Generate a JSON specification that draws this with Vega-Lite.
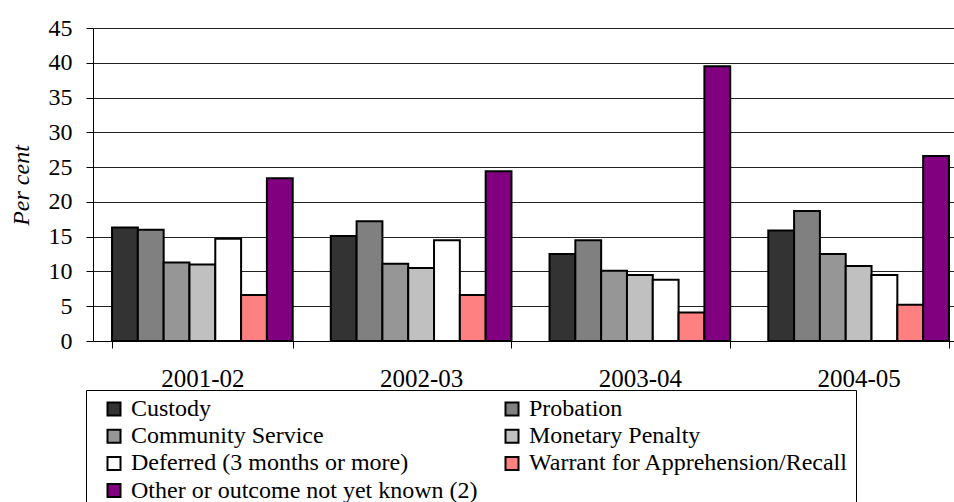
{
  "$schema": "https://vega.github.io/schema/vega-lite/v6.json",
  "width": 861,
  "height": 313,
  "autosize": {"type": "none"},
  "padding": {"left": 93, "top": 28, "right": 0, "bottom": 161},
  "background": "white",
  "config": {
    "view": {"stroke": null},
    "font": "Liberation Serif",
    "axis": {"labelFont": "Liberation Serif", "titleFont": "Liberation Serif", "labelColor": "black", "titleColor": "black", "domainColor": "black", "tickColor": "black", "domainWidth": 1, "tickWidth": 1}
  },
  "data": {
    "values": [
      {"year": "2001-02", "outcome": "Custody", "pct": 16.3},
      {"year": "2001-02", "outcome": "Probation", "pct": 16.0},
      {"year": "2001-02", "outcome": "Community Service", "pct": 11.3},
      {"year": "2001-02", "outcome": "Monetary Penalty", "pct": 11.0},
      {"year": "2001-02", "outcome": "Deferred (3 months or more)", "pct": 14.7},
      {"year": "2001-02", "outcome": "Warrant for Apprehension/Recall", "pct": 6.6},
      {"year": "2001-02", "outcome": "Other or outcome not yet known (2)", "pct": 23.4},
      {"year": "2002-03", "outcome": "Custody", "pct": 15.1},
      {"year": "2002-03", "outcome": "Probation", "pct": 17.2},
      {"year": "2002-03", "outcome": "Community Service", "pct": 11.1},
      {"year": "2002-03", "outcome": "Monetary Penalty", "pct": 10.5},
      {"year": "2002-03", "outcome": "Deferred (3 months or more)", "pct": 14.5},
      {"year": "2002-03", "outcome": "Warrant for Apprehension/Recall", "pct": 6.6},
      {"year": "2002-03", "outcome": "Other or outcome not yet known (2)", "pct": 24.4},
      {"year": "2003-04", "outcome": "Custody", "pct": 12.5},
      {"year": "2003-04", "outcome": "Probation", "pct": 14.5},
      {"year": "2003-04", "outcome": "Community Service", "pct": 10.1},
      {"year": "2003-04", "outcome": "Monetary Penalty", "pct": 9.5},
      {"year": "2003-04", "outcome": "Deferred (3 months or more)", "pct": 8.8},
      {"year": "2003-04", "outcome": "Warrant for Apprehension/Recall", "pct": 4.1},
      {"year": "2003-04", "outcome": "Other or outcome not yet known (2)", "pct": 39.5},
      {"year": "2004-05", "outcome": "Custody", "pct": 15.9},
      {"year": "2004-05", "outcome": "Probation", "pct": 18.7},
      {"year": "2004-05", "outcome": "Community Service", "pct": 12.5},
      {"year": "2004-05", "outcome": "Monetary Penalty", "pct": 10.8},
      {"year": "2004-05", "outcome": "Deferred (3 months or more)", "pct": 9.5},
      {"year": "2004-05", "outcome": "Warrant for Apprehension/Recall", "pct": 5.2},
      {"year": "2004-05", "outcome": "Other or outcome not yet known (2)", "pct": 26.6}
    ]
  },
  "mark": {"type": "bar", "stroke": "black", "strokeWidth": 2},
  "encoding": {
    "x": {
      "field": "year", "type": "nominal", "title": null,
      "scale": {"range": [0, 875], "paddingInner": 0.174, "paddingOuter": 0.087},
      "axis": {"labelAngle": 0, "labelFontSize": 25, "labelPadding": 18, "tickBand": "extent", "tickSize": 7, "grid": false}
    },
    "xOffset": {
      "field": "outcome", "type": "nominal",
      "sort": ["Custody", "Probation", "Community Service", "Monetary Penalty", "Deferred (3 months or more)", "Warrant for Apprehension/Recall", "Other or outcome not yet known (2)"],
      "scale": {"paddingInner": 0, "paddingOuter": 0}
    },
    "y": {
      "field": "pct", "type": "quantitative",
      "scale": {"domain": [0, 45], "nice": false},
      "axis": {
        "title": "Per cent", "titleFontSize": 24, "titleFontStyle": "italic", "titleFontWeight": "normal",
        "titleX": -72, "titleY": 157, "titleAlign": "center", "titleBaseline": "middle", "titleAngle": -90,
        "values": [0, 5, 10, 15, 20, 25, 30, 35, 40, 45],
        "labelFontSize": 24, "labelPadding": 14, "tickSize": 7,
        "grid": true, "gridColor": "#222222", "gridWidth": 1
      }
    },
    "fill": {
      "field": "outcome", "type": "nominal",
      "sort": ["Custody", "Probation", "Community Service", "Monetary Penalty", "Deferred (3 months or more)", "Warrant for Apprehension/Recall", "Other or outcome not yet known (2)"],
      "scale": {
        "domain": ["Custody", "Probation", "Community Service", "Monetary Penalty", "Deferred (3 months or more)", "Warrant for Apprehension/Recall", "Other or outcome not yet known (2)"],
        "range": ["#333333", "#808080", "#969696", "#C0C0C0", "#FFFFFF", "#FF8080", "#800080"]
      },
      "legend": {
        "title": null, "orient": "none", "legendX": -7, "legendY": 362, "direction": "horizontal",
        "columns": 2, "columnPadding": 13, "rowPadding": 3.2,
        "padding": 7, "strokeColor": "black", "fillColor": "white",
        "symbolType": "square", "symbolSize": 169, "symbolStrokeColor": "black", "symbolStrokeWidth": 2, "symbolOffset": 9,
        "labelFont": "Liberation Serif", "labelFontSize": 24, "labelColor": "black", "labelOffset": 5, "labelLimit": 500
      }
    }
  }
}
